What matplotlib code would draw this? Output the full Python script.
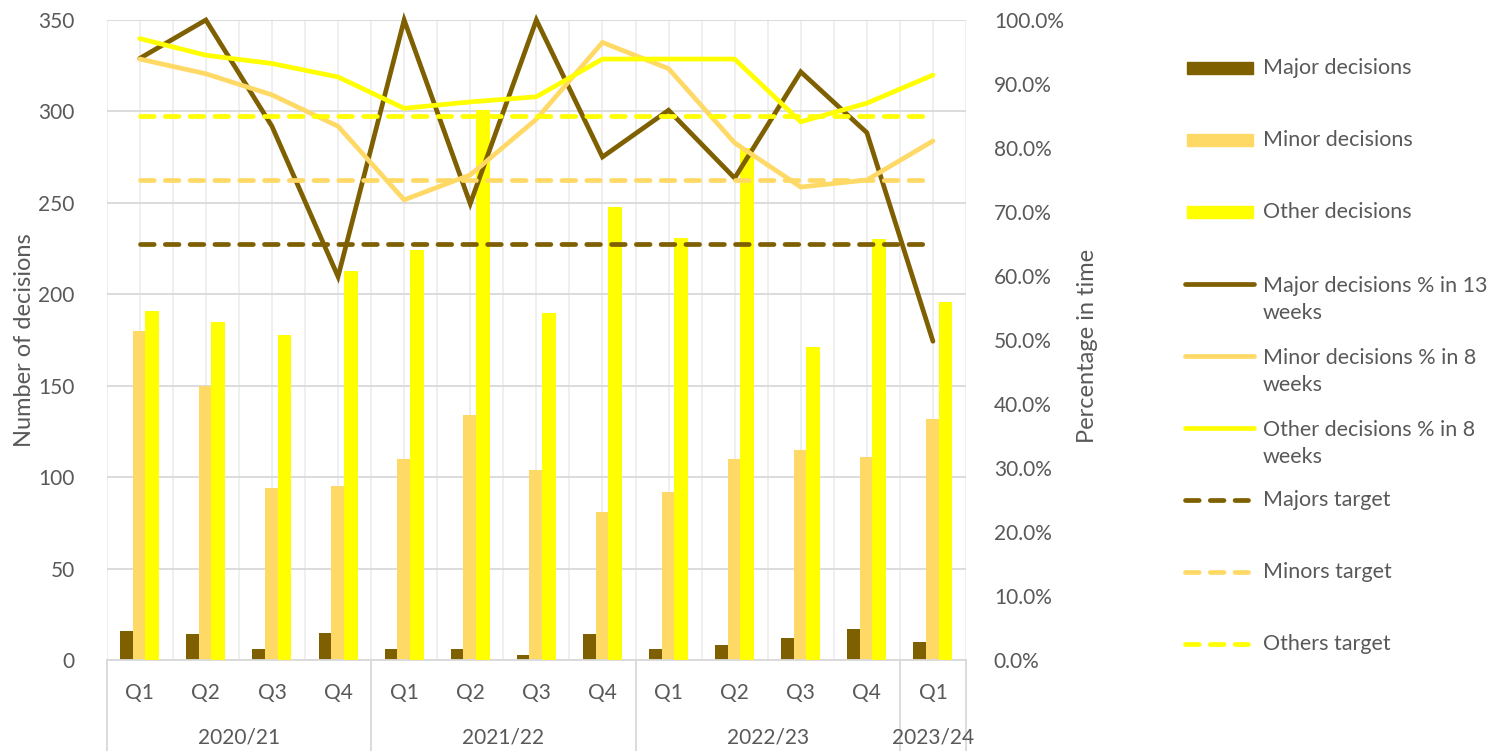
import matplotlib
matplotlib.use("Agg")
import matplotlib.pyplot as plt
from matplotlib.lines import Line2D
from matplotlib.patches import Rectangle
from matplotlib.ticker import PercentFormatter, MultipleLocator
import matplotlib.transforms as mtransforms
import numpy as np

# ---------------- data ----------------
quarters = ['Q1', 'Q2', 'Q3', 'Q4', 'Q1', 'Q2', 'Q3', 'Q4', 'Q1', 'Q2', 'Q3', 'Q4', 'Q1']
years = ['2020/21', '2021/22', '2022/23', '2023/24']
year_counts = [4, 4, 4, 1]

major = [16, 14, 6, 15, 6, 6, 3, 14, 6, 8, 12, 17, 10]
minor = [180, 150, 94, 95, 110, 134, 104, 81, 92, 110, 115, 111, 132]
other = [191, 185, 178, 213, 224, 301, 190, 248, 231, 280, 171, 230, 196]

major_pct = [94.0, 100.0, 83.4, 59.9, 100.0, 71.3, 100.0, 78.6, 85.9, 75.3, 91.9, 82.4, 49.8]
minor_pct = [93.9, 91.6, 88.3, 83.4, 71.9, 75.8, 84.5, 96.5, 92.4, 80.8, 73.9, 75.0, 81.1]
other_pct = [97.1, 94.5, 93.2, 91.1, 86.2, 87.2, 88.0, 93.9, 93.9, 93.9, 84.1, 87.0, 91.4]

major_target = 65.0
minor_target = 75.0
other_target = 85.0

# ---------------- style ----------------
C_MAJOR = '#7F6000'
C_MINOR = '#FFD966'
C_OTHER = '#FFFF00'
TXT = '#595959'
GRID = '#D9D9D9'
VGRID = '#EEEEEE'

plt.rcParams['font.family'] = ['Lato', 'DejaVu Sans']
FS = 15
LFS = 15.5
TFS = 17

W, H = 1498, 751
fig = plt.figure(figsize=(W / 100, H / 100), dpi=100)
L, R, T, B = 106.7, 966.0, 20.0, 660.0
ax = fig.add_axes([L / W, 1 - B / H, (R - L) / W, (B - T) / H])
ax2 = ax.twinx()

n = len(quarters)
x = np.arange(n)
bw = 0.21
off = 0.19

# vertical light gridlines at category centres and boundaries
for v in np.arange(-0.5, n, 0.5):
    ax.axvline(v, color=VGRID, lw=1.3, zorder=0)

ax.bar(x - off, major, bw, color=C_MAJOR, zorder=2)
ax.bar(x, minor, bw, color=C_MINOR, zorder=2)
ax.bar(x + off, other, bw, color=C_OTHER, zorder=3)

ax.set_xlim(-0.5, n - 0.5)
ax.set_ylim(0, 350)
ax.yaxis.set_major_locator(MultipleLocator(50))
ax.grid(axis='y', color=GRID, lw=1.3, zorder=0)
ax.set_axisbelow(True)
for s in ['top', 'right', 'left']:
    ax.spines[s].set_visible(False)
ax.spines['bottom'].set_color(GRID)
ax.spines['bottom'].set_linewidth(1.3)
ax.tick_params(axis='y', length=0, pad=23, labelsize=FS, labelcolor=TXT)
ax.set_xticks([])

# secondary axis lines
lw = 3.4
ax2.set_ylim(0, 1)
ax2.yaxis.set_major_locator(MultipleLocator(0.1))
ax2.yaxis.set_major_formatter(PercentFormatter(1.0, decimals=1))
ax2.tick_params(axis='y', length=0, pad=20, labelsize=FS, labelcolor=TXT)
for s in ax2.spines.values():
    s.set_visible(False)

for vals, c in [(major_pct, C_MAJOR), (minor_pct, C_MINOR), (other_pct, C_OTHER)]:
    ax2.plot(x, np.array(vals) / 100, color=c, lw=lw, clip_on=False,
             solid_capstyle='round', solid_joinstyle='miter')

dash = (2.9, 2.35)
for tv, c in [(major_target, C_MAJOR), (minor_target, C_MINOR), (other_target, C_OTHER)]:
    ax2.plot(x, np.full(n, tv / 100), color=c, lw=lw, dashes=dash,
             dash_capstyle='round')

# category axis labels
trans = mtransforms.blended_transform_factory(ax.transData, ax.transAxes)
ah = B - T
for i, q in enumerate(quarters):
    ax.text(i, -(693 - B) / ah, q, transform=trans, ha='center', va='center',
            fontsize=FS, color=TXT)
start = 0
bounds = [-0.5]
for yl, cnt in zip(years, year_counts):
    centre = start + (cnt - 1) / 2
    ax.text(centre, -(738 - B) / ah, yl, transform=trans, ha='center', va='center',
            fontsize=FS, color=TXT)
    start += cnt
    bounds.append(start - 0.5)
for bnd in bounds:
    ax.plot([bnd, bnd], [0, -(H - B + 2) / ah], transform=trans, color=GRID,
            lw=1.3, clip_on=False)

# axis titles
fig.text(25 / W, 1 - 340 / H, 'Number of decisions', rotation=90, ha='center',
         va='center', fontsize=TFS, color=TXT)
fig.text(1088 / W, 1 - 346 / H, 'Percentage in time', rotation=90, ha='center',
         va='center', fontsize=TFS, color=TXT)

# legend (drawn manually)
def fy(py):
    return 1 - py / H

legend_items = [
    ('bar', C_MAJOR, 'Major decisions'),
    ('bar', C_MINOR, 'Minor decisions'),
    ('bar', C_OTHER, 'Other decisions'),
    ('line', C_MAJOR, 'Major decisions % in 13\nweeks'),
    ('line', C_MINOR, 'Minor decisions % in 8\nweeks'),
    ('line', C_OTHER, 'Other decisions % in 8\nweeks'),
    ('dash', C_MAJOR, 'Majors target'),
    ('dash', C_MINOR, 'Minors target'),
    ('dash', C_OTHER, 'Others target'),
]
y0, dy = 68, 72
tx = 1263
for k, (kind, c, lab) in enumerate(legend_items):
    py = y0 + dy * k
    if kind == 'bar':
        fig.patches.append(Rectangle((1187 / W, fy(py + 6)), 66 / W, 12 / H,
                                     transform=fig.transFigure, color=c))
    elif kind == 'line':
        fig.lines.append(Line2D([1185 / W, 1254 / W], [fy(py), fy(py)],
                                transform=fig.transFigure, color=c, lw=lw,
                                solid_capstyle='round'))
    else:
        fig.lines.append(Line2D([1185 / W, 1248 / W], [fy(py), fy(py)],
                                transform=fig.transFigure, color=c, lw=lw,
                                dashes=dash, dash_capstyle='round'))
    if '\n' in lab:
        fig.text(tx / W, fy(py - 8), lab, ha='left', va='top', fontsize=LFS,
                 color=TXT, linespacing=1.45)
    else:
        fig.text(tx / W, fy(py), lab, ha='left', va='center', fontsize=LFS,
                 color=TXT)

fig.savefig('out.png', dpi=100, facecolor='white')
